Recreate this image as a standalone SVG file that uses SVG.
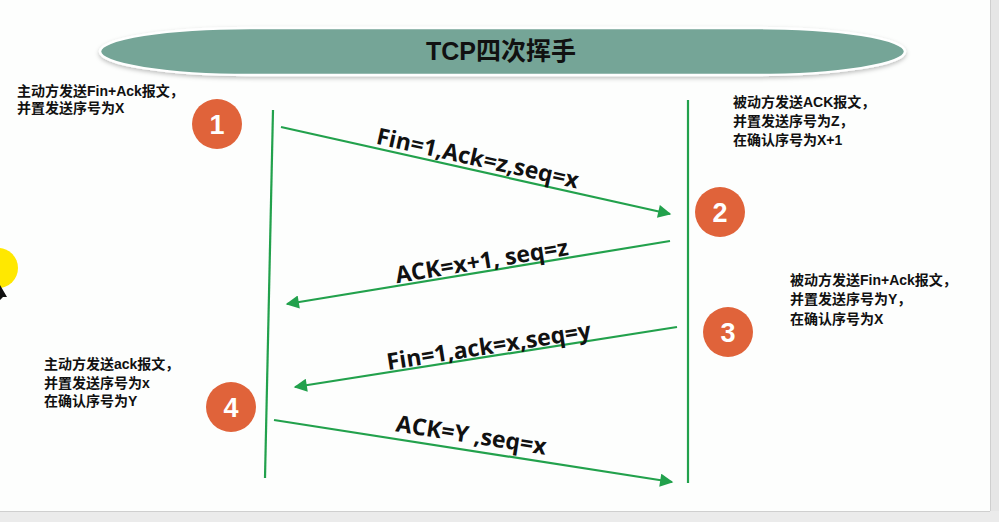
<svg xmlns="http://www.w3.org/2000/svg" width="999" height="522" viewBox="0 0 999 522">
<defs>
<style>
.note{font-family:"Liberation Sans","Noto Sans CJK SC",sans-serif;font-size:14px;font-weight:bold;fill:#111}
.lbl{font-family:"Open Sans","Noto Sans",sans-serif;font-size:23px;font-weight:bold;fill:#111}
.num{font-family:"Liberation Sans",sans-serif;font-size:27px;font-weight:bold;fill:#fff}
.badge{fill:#e0633a}
.life{stroke:#22a14c;stroke-width:2.2;fill:none}
.msg{stroke:#22a14c;stroke-width:2.2;fill:none;marker-end:url(#ah)}
</style>
<marker id="ah" viewBox="0 0 10 10" refX="9" refY="5" markerWidth="7" markerHeight="6" markerUnits="strokeWidth" orient="auto">
<path d="M0,0 L10,5 L0,10 Z" fill="#22a14c"/>
</marker>
<filter id="sh" x="-5%" y="-30%" width="110%" height="160%">
<feDropShadow dx="0" dy="2" stdDeviation="2" flood-color="#000" flood-opacity="0.25"/>
</filter>
</defs>
<rect x="0" y="0" width="999" height="522" fill="#fdfefd"/>
<rect x="990" y="0" width="9" height="522" fill="#e6e6e6"/>
<line x1="990.5" y1="0" x2="990.5" y2="511" stroke="#cfcfcf"/>
<rect x="0" y="511" width="999" height="11" fill="#ebebeb"/>
<line x1="0" y1="511.5" x2="990" y2="511.5" stroke="#cfcfcf"/>

<g id="title">
<rect x="100" y="28" width="805" height="47" rx="150" ry="23.5" fill="#74a597" stroke="#ffffff" stroke-width="2.5" filter="url(#sh)"/>
<text x="501" y="60" text-anchor="middle" font-family="'Liberation Sans','Noto Sans CJK SC',sans-serif" font-size="25" font-weight="bold" fill="#111">TCP四次挥手</text>
</g>

<g id="highlight">
<circle cx="-2" cy="268" r="20" fill="#ffe800"/>
<path d="M0,285 L7,297 L3,297 L0,300 Z" fill="#111"/>
</g>

<g id="lifelines">
<line class="life" x1="273" y1="110" x2="265" y2="478"/>
<line class="life" x1="688" y1="100" x2="688" y2="483"/>
</g>

<g id="connectors">
<line class="msg" x1="281" y1="127" x2="670" y2="214"/>
<line class="msg" x1="670" y1="241" x2="287" y2="304"/>
<line class="msg" x1="677" y1="327" x2="295" y2="387"/>
<line class="msg" x1="274" y1="420" x2="672" y2="482"/>
<text class="lbl" text-anchor="middle" transform="translate(476,166) rotate(12.6)">Fin=1,Ack=z,seq=x</text>
<text class="lbl" text-anchor="middle" transform="translate(483,269) rotate(-9.3)">ACK=x+1, seq=z</text>
<text class="lbl" text-anchor="middle" transform="translate(490,354) rotate(-8.9)">Fin=1,ack=x,seq=y</text>
<text class="lbl" text-anchor="middle" transform="translate(470,443) rotate(8.85)">ACK=Y ,seq=x</text>
</g>

<g id="n1">
<circle class="badge" cx="217" cy="124" r="25"/>
<text class="num" x="217" y="134" text-anchor="middle">1</text>
<text class="note" x="17" y="96">主动方发送Fin+Ack报文，</text>
<text class="note" x="17" y="113">并置发送序号为X</text>
</g>

<g id="n2">
<circle class="badge" cx="720" cy="212" r="25"/>
<text class="num" x="720" y="222" text-anchor="middle">2</text>
<text class="note" x="733" y="107">被动方发送ACK报文，</text>
<text class="note" x="733" y="126">并置发送序号为Z，</text>
<text class="note" x="733" y="145">在确认序号为X+1</text>
</g>

<g id="n3">
<circle class="badge" cx="728" cy="332" r="25"/>
<text class="num" x="728" y="342" text-anchor="middle">3</text>
<text class="note" x="790" y="285">被动方发送Fin+Ack报文，</text>
<text class="note" x="790" y="304">并置发送序号为Y，</text>
<text class="note" x="790" y="324">在确认序号为X</text>
</g>

<g id="n4">
<circle class="badge" cx="231" cy="407" r="25"/>
<text class="num" x="231" y="417" text-anchor="middle">4</text>
<text class="note" x="44" y="369">主动方发送ack报文，</text>
<text class="note" x="44" y="388">并置发送序号为x</text>
<text class="note" x="44" y="406">在确认序号为Y</text>
</g>
</svg>
